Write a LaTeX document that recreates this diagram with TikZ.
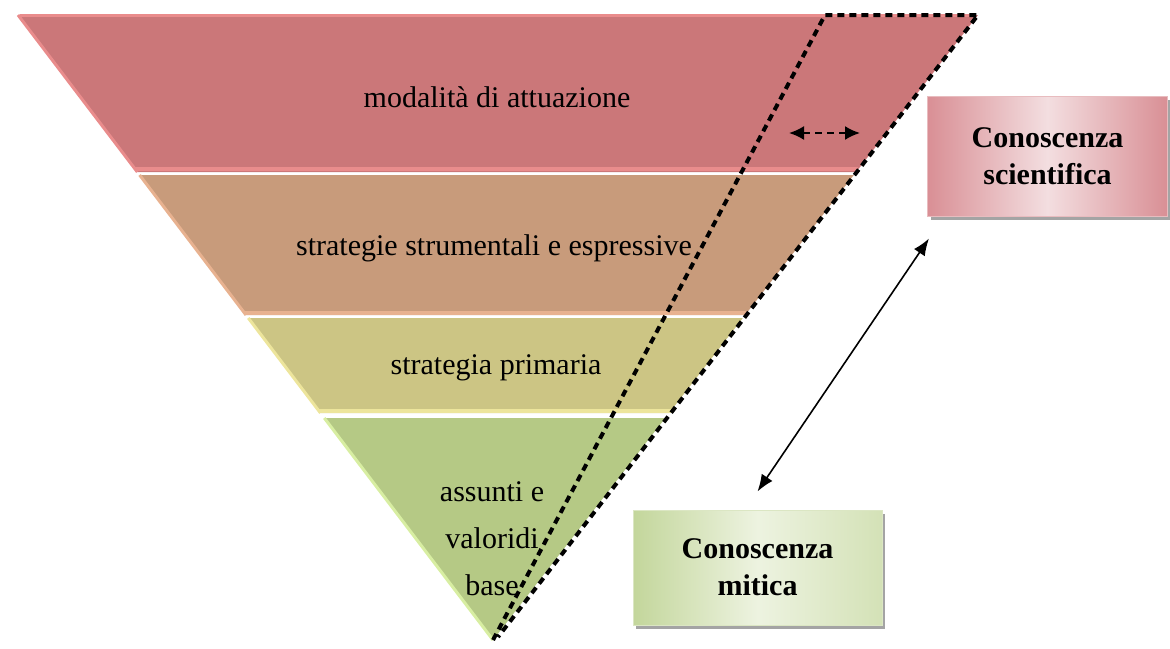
\documentclass[tikz,border=0pt]{standalone}
\usepackage{fontspec}
\setmainfont{Liberation Serif}
\usetikzlibrary{calc,shadows,arrows.meta}

\definecolor{redmain}{HTML}{CB7779}
\definecolor{redlight}{HTML}{E98C8C}
\definecolor{orangemain}{HTML}{C89B7B}
\definecolor{orangelight}{HTML}{E8B290}
\definecolor{yellowmain}{HTML}{CCC584}
\definecolor{yellowlight}{HTML}{EDE59C}
\definecolor{greenmain}{HTML}{B5C985}
\definecolor{greenlight}{HTML}{D8EEA2}
\definecolor{scidark}{HTML}{D98F95}
\definecolor{scilight}{HTML}{F3DEE0}
\definecolor{mitdark}{HTML}{C3D69B}
\definecolor{mitlight}{HTML}{EDF3E0}

\begin{document}
\begin{tikzpicture}[x=1pt, y=-1pt]
    % Styles
    \tikzstyle{bandtext} = [font=\fontsize{30}{47}\selectfont, align=center, inner sep=0pt]
    \tikzstyle{boxtext} = [font=\fontsize{30}{37}\selectfont\bfseries, align=center]
    \tikzstyle{scibox} = [boxtext, rectangle, draw=scidark!60!white, line width=1pt, left color=scidark, right color=scidark, middle color=scilight, minimum width=240pt, minimum height=120pt, drop shadow={shadow xshift=3pt, shadow yshift=-4pt, opacity=0.55, fill=black!65}]
    \tikzstyle{mitbox} = [boxtext, rectangle, draw=mitdark!60!white, line width=1pt, left color=mitdark, right color=mitdark!60!mitlight, middle color=mitlight, minimum width=249pt, minimum height=115pt, drop shadow={shadow xshift=3pt, shadow yshift=-4pt, opacity=0.55, fill=black!65}]
    \tikzstyle{dotline} = [line width=4pt, dash pattern=on 7pt off 5pt]
    \tikzstyle{dasharrow} = [line width=2pt, dash pattern=on 7pt off 5pt, {Latex[length=15pt,width=14pt]}-{Latex[length=15pt,width=14pt]}]
    \tikzstyle{solidarrow} = [line width=1.6pt, {Latex[length=17pt,width=13pt]}-{Latex[length=17pt,width=13pt]}]

    \useasboundingbox (0,0) rectangle (1170,648);

    % Triangle corners
    \coordinate (topL) at (18,15);
    \coordinate (topR) at (978,15);
    \coordinate (apex) at (493,640);

    % Bands
    \fill[redmain] (topL) -- (topR) -- ($(topR)!0.2512!(apex)$) -- ($(topL)!0.2512!(apex)$) -- cycle;
    \draw[redlight, line width=3pt] ($(topL)!0.0025!(topR)$) -- ($(topR)!0.0025!(topL)$);
    \draw[redlight, line width=4pt] ($(topL)!0.2472!(apex)$) -- ($(topR)!0.2472!(apex)$);
    \draw[redlight, line width=3pt] (topL) -- ($(topL)!0.2512!(apex)$);
    \fill[orangemain] ($(topL)!0.256!(apex)$) -- ($(topR)!0.256!(apex)$) -- ($(topR)!0.48!(apex)$) -- ($(topL)!0.48!(apex)$) -- cycle;
    \draw[orangelight, line width=4pt] ($(topL)!0.476!(apex)$) -- ($(topR)!0.476!(apex)$);
    \draw[orangelight, line width=3pt] ($(topL)!0.256!(apex)$) -- ($(topL)!0.48!(apex)$);
    \fill[yellowmain] ($(topL)!0.4848!(apex)$) -- ($(topR)!0.4848!(apex)$) -- ($(topR)!0.6368!(apex)$) -- ($(topL)!0.6368!(apex)$) -- cycle;
    \draw[yellowlight, line width=4pt] ($(topL)!0.6328!(apex)$) -- ($(topR)!0.6328!(apex)$);
    \draw[yellowlight, line width=3pt] ($(topL)!0.4848!(apex)$) -- ($(topL)!0.6368!(apex)$);
    \fill[greenmain] ($(topL)!0.6448!(apex)$) -- ($(topR)!0.6448!(apex)$) -- (apex) -- cycle;
    \draw[greenlight, line width=3pt] ($(topL)!0.6448!(apex)$) -- (apex);

    % Nodes
    \node[bandtext] (modalita) at (497,97) {modalità di attuazione};
    \node[bandtext] (strategie) at (494,248) {strategie strumentali e espressive};
    \node[bandtext] (primaria) at (496,368) {strategia primaria};
    \node[bandtext] (assunti) at (492,539) {assunti e\\valoridi\\base};
    \node[scibox] (scientifica) at (1047.5,156) {Conoscenza\\scientifica};
    \node[mitbox] (mitica) at (757.5,567.5) {Conoscenza\\mitica};

    % Dotted outline
    \coordinate (dotTop) at (825,15);
    \coordinate (dotEnd) at (498,637);
    \draw[dotline] (apex) -- (dotTop) -- (topR) -- (dotEnd);

    % Arrows
    \coordinate (gapL) at (789,133);
    \coordinate (gapR) at (860,133);
    \draw[dasharrow] (gapL) -- (gapR);
    \draw[solidarrow] ([yshift=18pt]mitica.north) -- ([xshift=2pt,yshift=-22pt]scientifica.south west);
\end{tikzpicture}
\end{document}
